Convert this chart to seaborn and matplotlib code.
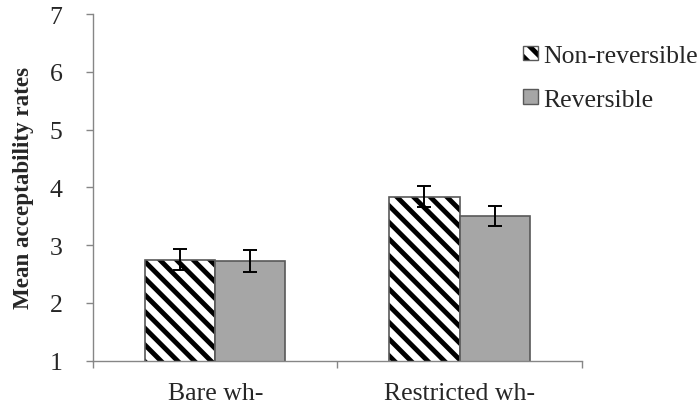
import pandas as pd
import matplotlib.pyplot as plt
import seaborn as sns
from matplotlib.patches import Patch
from matplotlib.colors import to_rgba

# Dane
categories = ['Bare wh-', 'Restricted wh-']
conditions = ['Non-reversible', 'Reversible']
means_nonrev = [2.75, 3.84]
means_rev = [2.72, 3.50]
err_nonrev = [0.18, 0.18]
err_rev = [0.19, 0.17]

df = pd.DataFrame({
    'Type': categories * 2,
    'Condition': [conditions[0]] * 2 + [conditions[1]] * 2,
    'Mean': means_nonrev + means_rev,
    'Err': err_nonrev + err_rev,
})

sns.set_style('ticks')
plt.rcParams['font.family'] = ['Liberation Serif', 'DejaVu Serif']
plt.rcParams['hatch.linewidth'] = 3.5

axis_gray = '#868686'
edge_gray = '#595959'
fill_gray = '#a6a6a6'

fig = plt.figure(figsize=(7, 4.06), dpi=100)
ax = fig.add_axes([0.133, 0.109, 0.698, 0.854])

sns.barplot(data=df, x='Type', y='Mean', hue='Condition', order=categories,
            hue_order=conditions, palette=['white', fill_gray], width=0.574,
            errorbar=None, ax=ax, legend=False)

# Kreskowanie dla słupków "Non-reversible" + krawędzie
for i, cont in enumerate(ax.containers):
    for p in cont:
        p.set_edgecolor(edge_gray)
        p.set_linewidth(1.2)
        if i == 0:
            p.set_hatch('\\\\')
            if hasattr(p, 'set_hatchcolor'):
                p.set_hatchcolor('black')
            else:
                p._hatch_color = to_rgba('black')

# Słupki błędów
for cont, errs in zip(ax.containers, [err_nonrev, err_rev]):
    xs = [p.get_x() + p.get_width() / 2 for p in cont]
    ys = [p.get_height() for p in cont]
    ax.errorbar(xs, ys, yerr=errs, fmt='none', ecolor='black',
                elinewidth=1.4, capsize=4.7, capthick=1.4)

ax.set_ylim(1, 7)
ax.set_xlim(-0.5, 1.5)
ax.set_yticks(range(1, 8))
ax.set_xticks([-0.5, 0.5, 1.5])
ax.set_xticklabels([])
ax.set_xticks([0, 1], minor=True)
ax.set_xticklabels(categories, minor=True)
ax.tick_params(axis='x', which='minor', length=0, pad=15, labelsize=18.5)
ax.tick_params(axis='x', which='major', length=5, color=axis_gray, width=1)
ax.tick_params(axis='y', length=5, color=axis_gray, width=1, pad=17, labelsize=18.5)

for s in ['top', 'right']:
    ax.spines[s].set_visible(False)
for s in ['left', 'bottom']:
    ax.spines[s].set_color(axis_gray)
    ax.spines[s].set_linewidth(1)

ax.set_xlabel('')
ax.set_ylabel('Mean acceptability rates', fontsize=16.6, fontweight='bold', labelpad=11)

handles = [
    Patch(facecolor='white', edgecolor=edge_gray, hatch='\\\\', label=conditions[0]),
    Patch(facecolor=fill_gray, edgecolor=edge_gray, label=conditions[1]),
]
for h in handles:
    if hasattr(h, 'set_hatchcolor'):
        h.set_hatchcolor('black')
    else:
        h._hatch_color = to_rgba('black')
fig.legend(handles=handles, loc='upper left', bbox_to_anchor=(523 / 700, 1 - 46 / 406),
           frameon=False, fontsize=18.5, handlelength=0.58, handleheight=0.5,
           handletextpad=0.2, labelspacing=0.85, borderpad=0, borderaxespad=0)

plt.savefig('out.png', dpi=100, facecolor='white')
plt.close()
